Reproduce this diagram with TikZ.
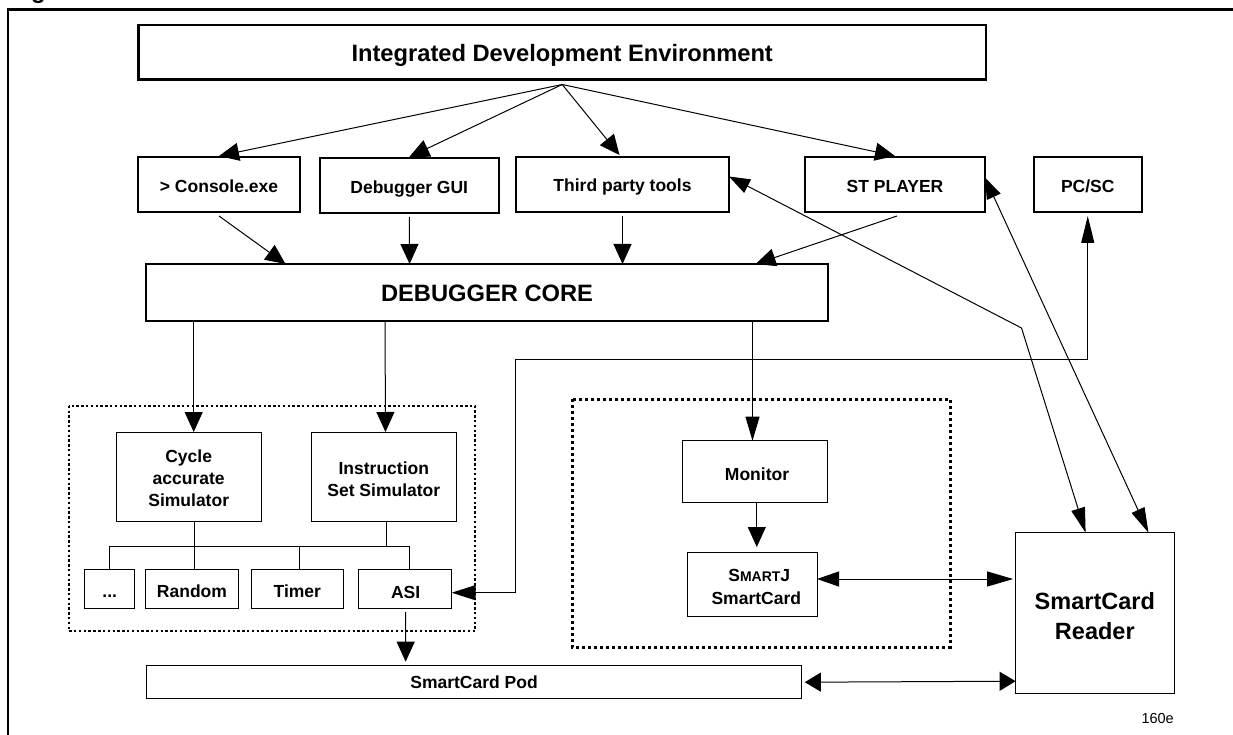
\documentclass[tikz,border=0pt]{standalone}
\usepackage{fontspec}
\setmainfont{Liberation Sans}
\usetikzlibrary{arrows.meta,calc}
\newcommand{\fs}[1]{\fontsize{#1}{#1}\selectfont}
\newcommand{\bx}[7][]{%
  \pgfmathsetmacro{\cxx}{(#3+#5)/2}\pgfmathsetmacro{\cyy}{(#4+#6)/2}%
  \pgfmathsetmacro{\ww}{#5-#3}\pgfmathsetmacro{\hh}{#6-#4}%
  \node[bxs,#1,minimum width=\ww pt,minimum height=\hh pt] (#2) at (\cxx,\cyy) {#7};}
\newcommand{\dn}[1]{\rule{0pt}{#1}}
\tikzset{
  bxs/.style={draw=black,line width=1pt,inner sep=0pt,outer sep=0pt,align=center,font=\bfseries\fs{17.5}},
  big/.style={font=\bfseries\fs{23.7}},
  med/.style={line width=2pt},
  thk/.style={line width=2.6pt},
  conn/.style={draw=black,line width=1pt},
  arr/.style={conn,-{Triangle[length=20pt,width=18pt]}},
  arrs/.style={conn,-{Triangle[length=24pt,width=14pt]}},
  arrm/.style={conn,{Triangle[length=22pt,width=15pt]}-{Triangle[length=26pt,width=15pt]}},
  arrp/.style={conn,{Triangle[length=16pt,width=19pt]}-{Triangle[length=16pt,width=19pt]}},
  arrn/.style={conn,{Triangle[length=21pt,width=15pt]}-{Triangle[length=25pt,width=14pt]}},
  arra/.style={conn,{Triangle[length=24pt,width=15pt]}-{Triangle[length=27pt,width=13pt]}},
  dot1/.style={draw=black,line width=2.4pt,dash pattern=on 2.4pt off 2.4pt},
  dot2/.style={draw=black,line width=3pt,dash pattern=on 3pt off 3pt},
}
\begin{document}
\begin{tikzpicture}[x=1pt,y=-1pt]
\useasboundingbox (0,0) rectangle (1233,735);
\node[font=\bfseries\fs{24},anchor=base west,inner sep=0pt] (cut) at (31,-1) {g};
% frame
\draw[black,line width=2.4pt] (8,735) -- (8,9.5) -- (1233,9.5);
% dotted groups
\draw[dot1] (69,405.7) rectangle (475,631);
\draw[dot2] (572,399) rectangle (950,647);
% boxes
\bx[thk,big]{ide}{138.4}{25}{986}{79.5}{\dn{23pt}Integrated Development Environment}
\bx[med]{console}{138}{157}{300}{212}{\dn{17pt}> Console.exe}
\bx[med]{gui}{319.5}{158}{499}{213}{\dn{19pt}Debugger GUI}
\bx[med]{third}{516}{157}{729}{212}{\dn{17pt}Third party tools}
\bx[med]{stp}{805}{157}{985}{212}{\dn{17pt}ST PLAYER}
\bx[med]{pcsc}{1034}{157}{1141.5}{212}{\dn{17pt}PC/SC}
\bx[med,big]{core}{146}{264}{828}{321}{\dn{19pt}DEBUGGER CORE}
\bx{cycle}{116}{432}{261.4}{521}{\dn{17pt}Cycle\\[4.5pt]accurate\\[4.5pt]Simulator}
\bx{iss}{311.6}{432}{456}{521}{\dn{18pt}Instruction\\[4.5pt]Set Simulator}
\bx{dots}{84.6}{569}{134.8}{608}{\dn{18pt}...}
\bx{random}{145.5}{569}{238.4}{608}{\dn{18pt}Random}
\bx{timer}{251}{569}{343.6}{608}{\dn{18pt}Timer}
\bx{asi}{358.6}{569}{451.6}{608}{\dn{20pt}\hspace*{1pt}ASI}
\bx{pod}{146.3}{665.7}{801.8}{698.7}{SmartCard Pod}
\bx{monitor}{682}{440.7}{827}{502.7}{\dn{17pt}\hspace*{5pt}Monitor}
\bx{smartj}{687.6}{552}{817}{616.7}{\dn{18pt}\hspace*{14pt}S{\fs{14}MART}J\\[5.5pt]\hspace*{8pt}SmartCard}
\bx[font=\bfseries\fs{23.5}]{reader}{1015.6}{532.7}{1174}{693}{\dn{24pt}SmartCard\\[7pt]Reader}
\node[font=\fs{14.5},anchor=east,inner sep=0pt] (code) at (1174,719) {160e};
% connectors from IDE
\coordinate (apex) at ($(ide.south)+(0,5)$);
\draw[arr] (apex) -- ([yshift=1pt]console.north);
\draw[arr] (apex) -- ([yshift=1pt]gui.north);
\draw[arr] (apex) -- ([xshift=-3pt,yshift=2pt]third.north);
\draw[arr] (apex) -- ([yshift=1pt]stp.north);
% into core
\draw[arr] ([yshift=-4pt]console.south) -- ([xshift=-201.5pt]core.north);
\draw[arr] ([yshift=-4pt]gui.south) -- ([xshift=-77.4pt]core.north);
\draw[arr] ([yshift=-4pt]third.south) -- ([xshift=135.5pt]core.north);
\draw[arr] ([xshift=2pt,yshift=-4pt]stp.south) -- ([xshift=268.6pt]core.north);
% out of core
\draw[arr] ([xshift=-293.3pt]core.south) -- ([xshift=5pt]cycle.north);
\draw[arr] ([xshift=-102pt]core.south) -- ([xshift=1.7pt]iss.north);
\draw[arrs] ([xshift=265.5pt]core.south) -- ([xshift=-2pt]monitor.north);
% PC/SC - ASI
\coordinate (cornerA) at (515.6,359);
\coordinate (cornerB) at (515.6,592.7);
\coordinate (asitip) at (asi.east |- cornerB);
\coordinate (cornerC) at (pcsc.south |- cornerA);
\draw[arra] (asitip) -- (cornerB) -- (cornerA) -- (cornerC) -- ([yshift=-4pt]pcsc.south);
% bus
\coordinate (busL) at (109.5,546.7);
\coordinate (busR) at (409,546.7);
\coordinate (cyc1) at ([xshift=5.3pt]cycle.south);
\coordinate (iss1) at ([xshift=2.5pt]iss.south);
\coordinate (tim1) at (299.3,546.7);
\draw[conn] (dots.north) -- (dots.north |- busL) -- (busR) -- (busR |- asi.north);
\draw[conn] (cyc1) -- (cyc1 |- random.north);
\draw[conn] (tim1) -- (tim1 |- timer.north);
\draw[conn] (iss1) -- (iss1 |- busL);
% to pod
\draw[arr] ([xshift=0.6pt,yshift=-4pt]asi.south) -- ([xshift=-68.4pt,yshift=4pt]pod.north);
% monitor to smartj
\coordinate (mon1) at ([xshift=2.3pt]monitor.south);
\draw[arr] (mon1) -- ($(mon1 |- smartj.north)+(0,-5)$);
% bidirectional
\coordinate (sj1) at (smartj.east |- 0,579);
\draw[arrm] (sj1) -- ($(sj1 -| reader.west)+(-2.5,0)$);
\draw[arrp] ($(pod.east)+(3,0)$) -- ($(reader.west |- pod.east)+(0,-1)$);
\coordinate (bend) at (1021.5,328);
\draw[arrn] ([yshift=8pt]third.east) -- (bend) -- ([xshift=-9.2pt]reader.north);
\coordinate (st1) at (stp.east |- 0,177.7);
\draw[arrn] (st1) -- ([xshift=53.7pt]reader.north);
\end{tikzpicture}
\end{document}
